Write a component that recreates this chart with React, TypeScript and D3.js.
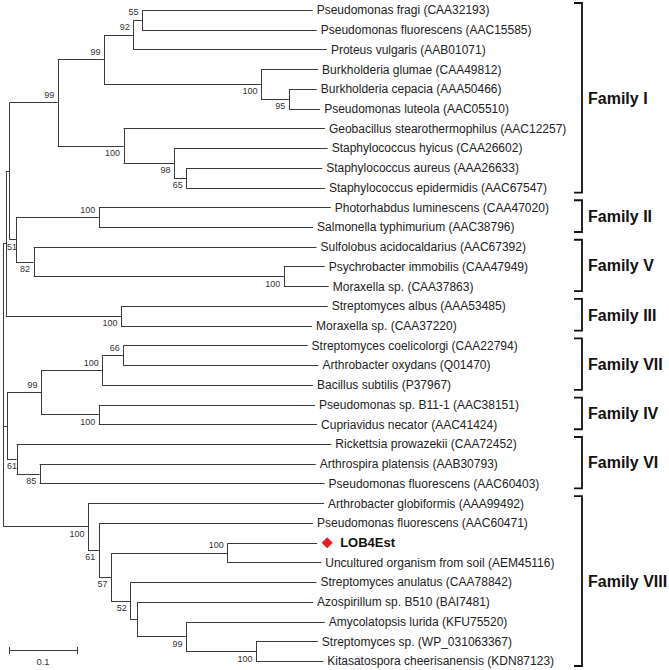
import React, { useMemo } from "react";
import * as d3 from "d3";

// ---------- DATA ----------
const leafLabels = [
  "Pseudomonas fragi (CAA32193)",
  "Pseudomonas fluorescens (AAC15585)",
  "Proteus vulgaris (AAB01071)",
  "Burkholderia glumae (CAA49812)",
  "Burkholderia cepacia (AAA50466)",
  "Pseudomonas luteola (AAC05510)",
  "Geobacillus stearothermophilus (AAC12257)",
  "Staphylococcus hyicus (CAA26602)",
  "Staphylococcus aureus (AAA26633)",
  "Staphylococcus epidermidis (AAC67547)",
  "Photorhabdus luminescens (CAA47020)",
  "Salmonella typhimurium (AAC38796)",
  "Sulfolobus acidocaldarius (AAC67392)",
  "Psychrobacter immobilis (CAA47949)",
  "Moraxella sp. (CAA37863)",
  "Streptomyces albus (AAA53485)",
  "Moraxella sp. (CAA37220)",
  "Streptomyces coelicolorgi (CAA22794)",
  "Arthrobacter oxydans (Q01470)",
  "Bacillus subtilis (P37967)",
  "Pseudomonas sp. B11-1 (AAC38151)",
  "Cupriavidus necator (AAC41424)",
  "Rickettsia prowazekii (CAA72452)",
  "Arthrospira platensis (AAB30793)",
  "Pseudomonas fluorescens (AAC60403)",
  "Arthrobacter globiformis (AAA99492)",
  "Pseudomonas fluorescens (AAC60471)",
  "LOB4Est",
  "Uncultured organism from soil (AEM45116)",
  "Streptomyces anulatus (CAA78842)",
  "Azospirillum sp. B510 (BAI7481)",
  "Amycolatopsis lurida (KFU75520)",
  "Streptomyces sp. (WP_031063367)",
  "Kitasatospora cheerisanensis (KDN87123)",
];

// Tree topology with branch lengths (substitutions/site) and bootstrap support
const newick = `(
 ((((((L0:0.251,L1:0.257)55:0.013,L2:0.285)92:0.043,
     (L3:0.084,(L4:0.041,L5:0.046)95:0.041)100:0.231)99:0.068,
    (L6:0.296,(L7:0.226,(L8:0.200,L9:0.204)65:0.018)98:0.074)100:0.097)99:0.071,
   ((L10:0.341,L11:0.315)100:0.122,
    (L12:0.416,(L13:0.060,L14:0.066)100:0.368)82:0.026)51:0.0096):0.005,
  (L15:0.304,L16:0.281)100:0.169):0.0044,
 ((((L17:0.271,L18:0.287)66:0.031,L19:0.310)100:0.090,
   (L20:0.318,L21:0.321)100:0.085)99:0.050,
  (L22:0.463,(L23:0.406,L24:0.419)85:0.034)61:0.014):0.0059,
 (L25:0.347,
  (L26:0.315,
   ((L27:0.132,L28:0.138)100:0.171,
    (L29:0.274,(L30:0.259,(L31:0.204,(L32:0.091,L33:0.099)100:0.103)99:0.072):0.010)52:0.028)57:0.018)61:0.016)100:0.125
);`;

const familyNames = ["Family I", "Family II", "Family V", "Family III", "Family VII", "Family IV", "Family VI", "Family VIII"];
const familyFirstLeaf = [0, 10, 12, 15, 17, 20, 22, 25];
const familyLastLeaf = [9, 11, 14, 16, 19, 21, 24, 33];
const highlightLeaf = 27;
const scaleBarValue = 0.1;

// ---------- PARSER ----------
type TNode = { name: string; length: number; children: TNode[] };

function parseNewick(src: string): TNode {
  const s = src.replace(/\s+/g, "");
  let i = 0;
  function parseNode(): TNode {
    const node: TNode = { name: "", length: 0, children: [] };
    if (s[i] === "(") {
      i++;
      node.children.push(parseNode());
      while (s[i] === ",") {
        i++;
        node.children.push(parseNode());
      }
      i++; // ')'
    }
    let label = "";
    while (i < s.length && !",():;".includes(s[i])) label += s[i++];
    if (s[i] === ":") {
      i++;
      let num = "";
      while (i < s.length && !",();".includes(s[i])) num += s[i++];
      node.length = +num;
    }
    node.name = label;
    return node;
  }
  return parseNode();
}

const FONT = "Arial, 'Liberation Sans', sans-serif";

export default function App() {
  const W = 669;
  const H = 670;

  const layout = useMemo(() => {
    const root = d3.hierarchy<TNode>(parseNewick(newick), (d) => (d.children.length ? d.children : null));
    const dist = new Map<any, number>();
    root.eachBefore((n) => {
      dist.set(n, (n.parent ? dist.get(n.parent)! : 0) + (n.parent ? n.data.length : 0));
    });
    const leaves = root.leaves();
    const y = d3.scalePoint<string>().domain(leaves.map((l) => l.data.name)).range([10, 661]);
    const x = d3.scaleLinear().domain([0, scaleBarValue]).range([3, 71]);
    const ypos = new Map<any, number>();
    root.eachAfter((n) => {
      if (n.children) {
        ypos.set(n, (ypos.get(n.children[0])! + ypos.get(n.children[n.children.length - 1])!) / 2);
      } else {
        ypos.set(n, y(n.data.name)!);
      }
    });
    const nodes = root.descendants().map((n) => ({
      n,
      x: x(dist.get(n)!),
      y: ypos.get(n)!,
      px: n.parent ? x(dist.get(n.parent)!) : null,
    }));
    return { root, nodes, x, y };
  }, []);

  const { nodes, x, y } = layout;
  const leafIndex = (name: string) => +name.slice(1);
  const stroke = "#3a3a3a";
  const r = (v: number) => Math.round(v) + 0.5;

  return (
    <svg
      width={W}
      height={H}
      style={{ position: "absolute", left: 0, top: 0, background: "#fff" }}
      fontFamily={FONT}
    >
      <rect x={0} y={0} width={W} height={H} fill="#fff" />
      {/* branches */}
      <g stroke={stroke} strokeWidth={1} fill="none">
        {nodes.map((d, i) => (
          <g key={i}>
            {d.px !== null && <line x1={d.px} x2={d.x} y1={r(d.y)} y2={r(d.y)} />}
            {d.n.children && (
              <line
                x1={r(d.x)}
                x2={r(d.x)}
                y1={r(nodes.find((q) => q.n === d.n.children![0])!.y)}
                y2={r(nodes.find((q) => q.n === d.n.children![d.n.children!.length - 1])!.y)}
              />
            )}
          </g>
        ))}
      </g>
      {/* bootstrap values */}
      <g fontSize={9} fill="#333">
        {nodes
          .filter((d) => d.n.children && d.n.parent && d.n.data.name)
          .map((d, i) => {
            const first = d.n.parent!.children![0] === d.n;
            const w = d.n.data.name.length * 0.556 * 9;
            let tx = d.x - 3.5;
            let anchor: "end" | "start" = "end";
            if (tx - w < 7) {
              tx = 7;
              anchor = "start";
            }
            return (
              <text key={i} x={tx} y={d.y + (first ? -7.5 : 7.5)} textAnchor={anchor} dominantBaseline="central">
                {d.n.data.name}
              </text>
            );
          })}
      </g>
      {/* leaf labels */}
      <g>
        {nodes
          .filter((d) => !d.n.children)
          .map((d, i) => {
            const idx = leafIndex(d.n.data.name);
            if (idx === highlightLeaf) {
              const cx = d.x + 10;
              const s = 5.5;
              return (
                <g key={i}>
                  <path
                    d={`M${cx},${d.y - s} L${cx + s},${d.y} L${cx},${d.y + s} L${cx - s},${d.y} Z`}
                    fill="#ec1c24"
                  />
                  <text x={d.x + 23} y={d.y} dy="0.36em" fontSize={13} fontWeight="bold" fill="#111">
                    {leafLabels[idx]}
                  </text>
                </g>
              );
            }
            return (
              <text key={i} x={d.x + 4} y={d.y} dy="0.36em" fontSize={12} fill="#222">
                {leafLabels[idx]}
              </text>
            );
          })}
      </g>
      {/* family brackets */}
      <g>
        {familyNames.map((name, i) => {
          const y0 = y("L" + familyFirstLeaf[i])! - 7;
          const y1 = y("L" + familyLastLeaf[i])! + 5;
          const bx = 582;
          return (
            <g key={name}>
              <path
                d={`M${bx - 8},${y0} H${bx} V${y1} H${bx - 8}`}
                fill="none"
                stroke="#111"
                strokeWidth={1.8}
              />
              <text x={bx + 6} y={(y0 + y1) / 2} dy="0.36em" fontSize={16} fontWeight="bold" fill="#111">
                {name}
              </text>
            </g>
          );
        })}
      </g>
      {/* scale bar */}
      <g stroke={stroke} strokeWidth={1}>
        <line x1={x(0) + 6} x2={x(scaleBarValue) + 6} y1={650.5} y2={650.5} />
        <line x1={r(x(0) + 6)} x2={r(x(0) + 6)} y1={647} y2={654} />
        <line x1={r(x(scaleBarValue) + 6)} x2={r(x(scaleBarValue) + 6)} y1={647} y2={654} />
      </g>
      <text
        x={(x(0) + x(scaleBarValue)) / 2 + 6}
        y={662}
        dy="0.36em"
        fontSize={9.5}
        textAnchor="middle"
        fill="#333"
      >
        {scaleBarValue}
      </text>
    </svg>
  );
}
